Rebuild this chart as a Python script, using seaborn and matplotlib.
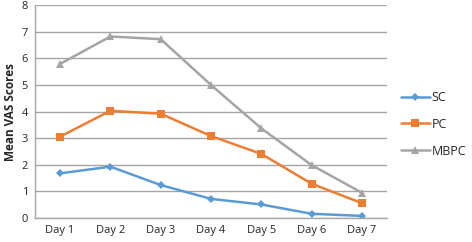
import numpy as np
import pandas as pd
import matplotlib
matplotlib.use("Agg")
import matplotlib.pyplot as plt
import seaborn as sns

# values
days = ["Day 1", "Day 2", "Day 3", "Day 4", "Day 5", "Day 6", "Day 7"]
sc = [1.68, 1.93, 1.24, 0.72, 0.51, 0.16, 0.08]
pc = [3.06, 4.03, 3.92, 3.08, 2.41, 1.29, 0.56]
mbpc = [5.79, 6.82, 6.72, 5.0, 3.37, 1.99, 0.95]

df = pd.DataFrame({"Day": days * 3,
                   "Score": sc + pc + mbpc,
                   "Group": ["SC"] * 7 + ["PC"] * 7 + ["MBPC"] * 7})

sns.set_style("white")
plt.rcParams['font.family'] = ['Open Sans', 'DejaVu Sans']

fig = plt.figure(figsize=(4.72, 2.42), dpi=100)
ax = fig.add_axes([0.074, 0.099, 0.746, 0.88])

palette = {"SC": "#5B9BD5", "PC": "#ED7D31", "MBPC": "#A5A5A5"}
markers = {"SC": "D", "PC": "s", "MBPC": "^"}
sizes = {"SC": 4, "PC": 6, "MBPC": 6}
for g in ["SC", "PC", "MBPC"]:
    sub = df[df.Group == g]
    sns.lineplot(data=sub, x="Day", y="Score", ax=ax, color=palette[g],
                 marker=markers[g], markersize=sizes[g], markeredgewidth=0,
                 linewidth=1.8, label=g, sort=False)

ax.set_ylim(0, 8)
ax.set_xlim(-0.5, 6.5)
ax.set_yticks(range(0, 9))
ax.yaxis.grid(True, color="#a6a6a6", linewidth=1)
ax.set_axisbelow(True)
for s in ["top", "right"]:
    ax.spines[s].set_visible(False)
for s in ["left", "bottom"]:
    ax.spines[s].set_color("#a6a6a6")
    ax.spines[s].set_linewidth(1)
ax.tick_params(axis="both", length=0, labelsize=8, colors="#262626", pad=5)
ax.set_xlabel("")
ax.set_ylabel("Mean VAS Scores", fontsize=8.5, fontweight="bold", labelpad=3)

ax.legend(loc="center left", bbox_to_anchor=(1.0, 0.44), borderaxespad=0.7,
          frameon=False, fontsize=9, handlelength=2.3, labelspacing=1.1,
          handletextpad=0.15)

fig.savefig("out.png", dpi=100)
